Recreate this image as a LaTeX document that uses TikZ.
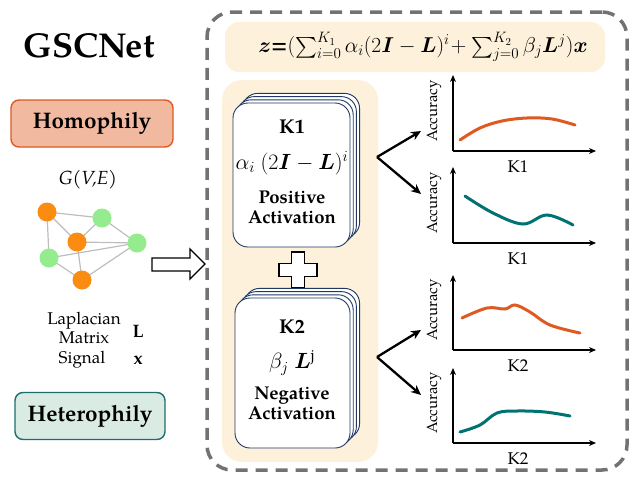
\documentclass[tikz,border=0pt]{standalone}
\usepackage{fix-cm}
\usepackage{amsmath,bm}
\usepackage{fontspec}
\setmainfont{TeX Gyre Pagella}
\usetikzlibrary{arrows.meta}
\definecolor{beige}{HTML}{FDF1DC}
\definecolor{homofill}{HTML}{F2B9A1}
\definecolor{homodraw}{HTML}{DE5A20}
\definecolor{hetefill}{HTML}{D9EBE3}
\definecolor{hetedraw}{HTML}{1E6E6E}
\definecolor{gnodeorange}{HTML}{FA8C12}
\definecolor{gnodegreen}{HTML}{95EC8E}
\definecolor{edgegray}{HTML}{BDBDBD}
\definecolor{navy}{HTML}{203864}
\definecolor{dashgray}{HTML}{767171}
\definecolor{curveorange}{HTML}{DE5A20}
\definecolor{curveteal}{HTML}{007272}
\tikzset{
  catbox/.style={rounded corners=8pt, line width=1.4pt, minimum width=#1, minimum height=47pt, inner sep=0pt},
  gnode/.style={circle, minimum size=19pt, inner sep=0pt},
  gedge/.style={edgegray, line width=1.2pt},
  card/.style={draw=navy, fill=white, line width=0.9pt, rounded corners=15pt, inner sep=0pt},
  fork/.style={line width=2.3pt, -{Stealth[length=10pt,width=9pt]}},
  axis/.style={line width=1.8pt, -{Stealth[length=7pt,width=6pt]}},
  curve/.style={line width=3pt, smooth, tension=0.6, line cap=round},
  acc/.style={rotate=90, font=\fontsize{15}{15}\selectfont},
  klab/.style={font=\fontsize{17}{17}\selectfont},
  cardhead/.style={font=\bfseries\fontsize{20}{20}\selectfont},
  cardmath/.style={font=\fontsize{22}{22}\selectfont},
  cardtxt/.style={font=\bfseries\fontsize{18.5}{20}\selectfont, align=center},
}
\begin{document}
\begin{tikzpicture}[x=1pt,y=-1pt]
\useasboundingbox (0,0) rectangle (639,482);
% left side
\node[font=\bfseries\fontsize{34.5}{34.5}\selectfont] (title) at (89,46) {GSCNet};
\node[catbox=162pt, fill=homofill, draw=homodraw, font=\bfseries\fontsize{22.5}{22.5}\selectfont] (homo) at (92,123.5) {Homophily};
\node[catbox=150pt, fill=hetefill, draw=hetedraw, font=\bfseries\fontsize{22.5}{22.5}\selectfont] (hete) at (90,416) {Heterophily};
\node[font=\itshape\fontsize{19}{19}\selectfont] (gve) at (88,180) {G(V,E)};
% graph
\node[gnode] (o1) at (47,212) {};
\node[gnode] (o2) at (77,242) {};
\node[gnode] (o3) at (82,280) {};
\node[gnode] (g1) at (102,218) {};
\node[gnode] (g2) at (137,243) {};
\node[gnode] (g3) at (49,258) {};
\draw[gedge] (o1.center) -- (g1.center) (o1.center) -- (g3.center) (o1.center) -- (o2.center)
  (o2.center) -- (g1.center) (o2.center) -- (g2.center) (o2.center) -- (o3.center)
  (g1.center) -- (g2.center) (g3.center) -- (g2.center) (g3.center) -- (o3.center) (o3.center) -- (g2.center);
\foreach \n in {o1,o2,o3} \fill[gnodeorange] (\n) circle (9.5pt);
\foreach \n in {g1,g2,g3} \fill[gnodegreen] (\n) circle (9.5pt);
\node[font=\fontsize{17}{19}\selectfont, align=center] (lap) at (84,328) {Laplacian\\Matrix};
\node[font=\bfseries\fontsize{18}{18}\selectfont] (Lsym) at (138,331) {L};
\node[font=\fontsize{17}{17}\selectfont] (sig) at (82,360) {Signal};
\node[font=\bfseries\fontsize{18}{18}\selectfont] (xsym) at (138,360) {x};
\draw[fill=white, line width=1.3pt] (152,258) -- (190,258) -- (190,249) -- (205,264) -- (190,279) -- (190,271)
  -- (152,271) -- cycle;
% right side
\node[draw=dashgray, line width=3.5pt, dash pattern=on 12pt off 8pt, rounded corners=25pt,
  minimum width=420pt, minimum height=458pt, inner sep=0pt] (outer) at (417,241) {};
\node[fill=beige, rounded corners=14pt, minimum width=380pt, minimum height=50pt, inner sep=0pt] (fbox) at (415,47) {};
\node[font=\fontsize{21.5}{21.5}\selectfont] (formula) at (423,47)
  {$\bm{z}$\textbf{\textit{=}}$(\sum_{i=0}^{K_1}\alpha_i(2\bm{I}-\bm{L})^i\!+\sum_{j=0}^{K_2}\beta_j\bm{L}^j)\bm{x}$};
\node[fill=beige, rounded corners=20pt, minimum width=156pt, minimum height=382pt, inner sep=0pt] (lpanel) at (300,271) {};
% K1 cards
\foreach \k in {3,2,1} \node[card, minimum width=117pt, minimum height=144pt] (k1b\k) at (291.5+3.2*\k,175-3.2*\k) {};
\node[card, minimum width=117pt, minimum height=144pt] (k1card) at (291.5,175) {};
\node[cardhead] (k1t) at (292,127) {K1};
\node[cardmath] (k1f) at (292,163) {$\alpha_i\ (2\bm{I}-\bm{L})^i$};
\node[cardtxt] (k1a) at (292,207) {Positive\\Activation};
% plus
\draw[fill=white, line width=1.6pt] (291.5,252) -- (304.5,252) -- (304.5,263.5) -- (317,263.5) -- (317,276.5) -- (304.5,276.5)
  -- (304.5,288) -- (291.5,288) -- (291.5,276.5) -- (279,276.5) -- (279,263.5) -- (291.5,263.5) -- cycle;
% K2 cards
\foreach \k in {3,2,1} \node[card, minimum width=115pt, minimum height=150pt] (k2b\k) at (292.5+3.2*\k,373-3.2*\k) {};
\node[card, minimum width=115pt, minimum height=150pt] (k2card) at (292.5,373) {};
\node[cardhead] (k2t) at (292,327) {K2};
\node[cardmath] (k2f) at (292,363) {$\beta_j\ \bm{L}^{\mathrm{j}}$};
\node[cardtxt] (k2a) at (292,403) {Negative\\Activation};
% forks
\coordinate (f1) at (377,157);
\coordinate (f1u) at (421,131);
\coordinate (f1d) at (421,194);
\coordinate (f2) at (377,357);
\coordinate (f2u) at (421,330);
\coordinate (f2d) at (421,395);
\draw[fork] (f1) -- (f1u);
\draw[fork] (f1) -- (f1d);
\draw[fork] (f2) -- (f2u);
\draw[fork] (f2) -- (f2d);
% charts
\foreach \oy/\ty/\lab/\nm in {151/75/K1/a, 243/167/K1/b, 350/275/K2/c, 443/368/K2/d}{
  \coordinate (orig\nm) at (453,\oy);
  \coordinate (ytop\nm) at (453,\ty);
  \coordinate (xend\nm) at (596,\oy);
  \draw[axis] (orig\nm) -- (ytop\nm);
  \draw[axis] (orig\nm) -- (xend\nm);
  \node[acc] (acc\nm) at (434,\oy-40) {Accuracy};
  \node[klab] (klab\nm) at (518,\oy+16) {\lab};
}
\draw[curve, curveorange] plot coordinates {(460,140) (480,128) (502,121) (527,118) (552,119) (575,125)};
\draw[curve, curveteal] plot coordinates {(465,196) (493,213) (523,224) (547,215) (573,225)};
\draw[curve, curveorange] plot coordinates {(462,318) (487,308) (505,309) (515,305) (530,312) (550,325) (580,333)};
\draw[curve, curveteal] plot coordinates {(460,432) (480,425) (497,413) (517,411) (545,412) (570,416)};
\end{tikzpicture}
\end{document}
